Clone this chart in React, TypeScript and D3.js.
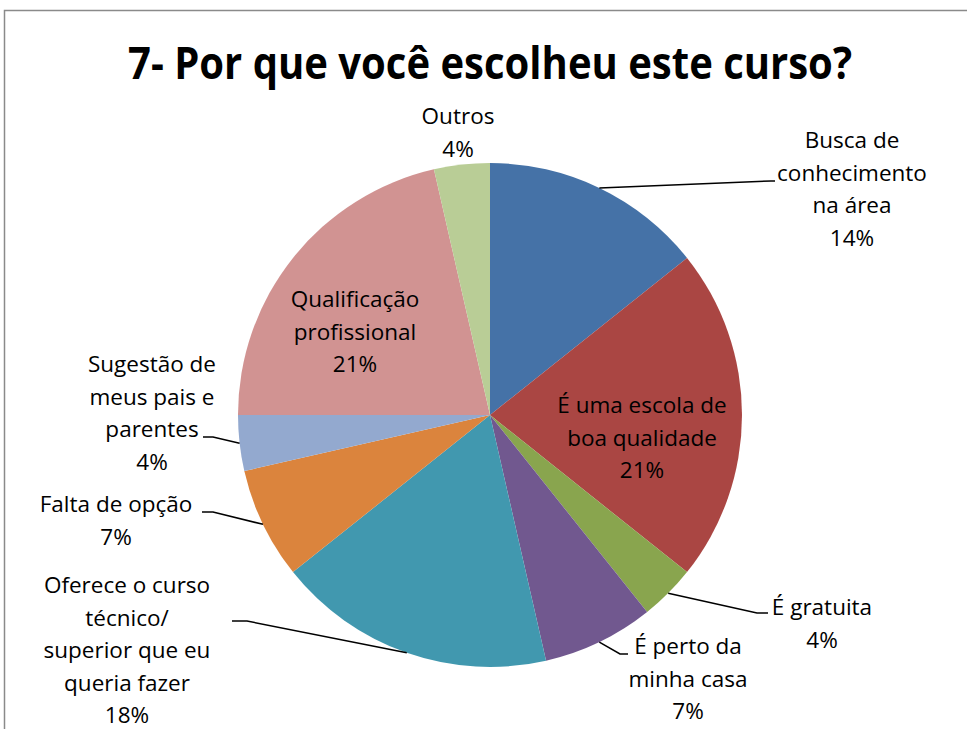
import React from "react";
import * as d3 from "d3";

// answers to question 7 (counts, 28 replies)
const categories = [
  "Busca de conhecimento na área",
  "É uma escola de boa qualidade",
  "É gratuita",
  "É perto da minha casa",
  "Oferece o curso técnico/ superior que eu queria fazer",
  "Falta de opção",
  "Sugestão de meus pais e parentes",
  "Qualificação profissional",
  "Outros",
];
const counts = [4, 6, 1, 2, 5, 2, 1, 6, 1];
const labelLines = [
  ["Busca de", "conhecimento", "na área"],
  ["É uma escola de", "boa qualidade"],
  ["É gratuita"],
  ["É perto da", "minha casa"],
  ["Oferece o curso", "técnico/", "superior que eu", "queria fazer"],
  ["Falta de opção"],
  ["Sugestão de", "meus pais e", "parentes"],
  ["Qualificação", "profissional"],
  ["Outros"],
];
const colors = [
  "#4572A7", "#AA4643", "#89A54E", "#71588F", "#4198AF",
  "#DB843D", "#93A9CF", "#D19392", "#B9CD96",
];

// label placement: centre x, first baseline, optional leader elbow
const labelLayout = [
  { x: 852, y: 148, elbow: [771, 181], end: [775, 181] },
  { x: 642, y: 413 },
  { x: 822, y: 615, elbow: [757, 613], end: [768, 613] },
  { x: 688, y: 654, elbow: [620, 654], end: [628, 654] },
  { x: 127, y: 593, elbow: [247, 621], end: [232, 621] },
  { x: 116, y: 512, elbow: [213, 512], end: [202, 512] },
  { x: 152, y: 372, elbow: [213, 437], end: [203, 437] },
  { x: 355, y: 307 },
  { x: 458, y: 124 },
];

const width = 967;
const height = 729;
const cx = 490;
const cy = 415;
const radius = 252;
const lineH = 32.5;
const font = "'Open Sans', sans-serif";

export default function App() {
  const total = d3.sum(counts);
  const pie = d3.pie<number>().sort(null).value((d) => d);
  const arcs = pie(counts);
  const arc = d3.arc<d3.PieArcDatum<number>>().innerRadius(0).outerRadius(radius);
  const pct = (v: number) => `${Math.round((v / total) * 100)}%`;

  return (
    <svg
      width={width}
      height={height}
      style={{ position: "absolute", left: 0, top: 0, background: "#fff" }}
    >
      <rect x={4.5} y={10.5} width={width + 10} height={height + 10} fill="#fff" stroke="#8a8a8a" strokeWidth={1.5} />
      <text
        x={cx}
        y={79}
        textAnchor="middle"
        fontFamily={font}
        fontWeight="bold"
        fontSize={44}
        textLength={724}
        lengthAdjust="spacingAndGlyphs"
        fill="#000"
      >
        7- Por que você escolheu este curso?
      </text>
      <g transform={`translate(${cx},${cy})`}>
        {arcs.map((a, i) => (
          <path key={categories[i]} d={arc(a) || ""} fill={colors[i]} />
        ))}
      </g>
      {arcs.map((a, i) => {
        const l = labelLayout[i];
        if (!l.elbow) return null;
        const mid = (a.startAngle + a.endAngle) / 2;
        const sx = cx + radius * Math.sin(mid);
        const sy = cy - radius * Math.cos(mid);
        const pts: [number, number][] = [[sx, sy], l.elbow as [number, number], l.end as [number, number]];
        return (
          <path
            key={"lead" + i}
            d={d3.line()(pts) || ""}
            fill="none"
            stroke="#000"
            strokeWidth={1.5}
          />
        );
      })}
      {arcs.map((a, i) => {
        const l = labelLayout[i];
        const lines = [...labelLines[i], pct(a.data)];
        return (
          <text
            key={"lab" + i}
            textAnchor="middle"
            fontFamily={font}
            fontSize={22.5}
            fill="#000"
          >
            {lines.map((t, j) => (
              <tspan key={j} x={l.x} y={l.y + j * lineH}>
                {t}
              </tspan>
            ))}
          </text>
        );
      })}
    </svg>
  );
}
